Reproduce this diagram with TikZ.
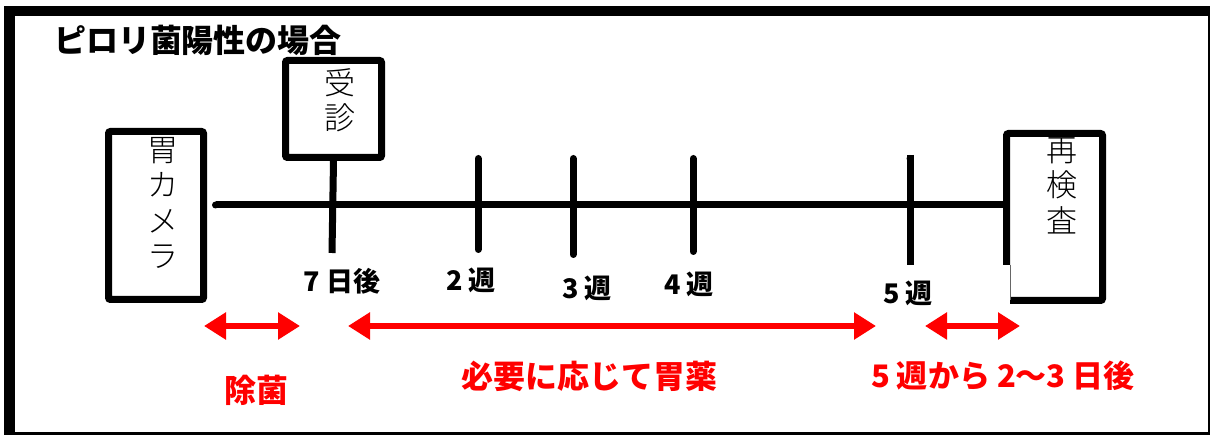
\documentclass[tikz,border=0pt]{standalone}
\usepackage{fontspec}
\newfontfamily\jp{Noto Sans CJK JP}
\newfontfamily\jpblack{Noto Sans CJK JP Black}
\newfontfamily\jplight{Noto Sans CJK JP Light}
\usetikzlibrary{arrows.meta}
\begin{document}
\begin{tikzpicture}[x=1pt,y=-1pt,
  box/.style={draw, line width=7pt, rounded corners=2pt, inner sep=0pt},
  vtext/.style={font=\jplight\fontsize{31}{35.5}\selectfont, align=center, anchor=north, inner sep=0pt},
  tickline/.style={line width=7pt, line cap=round},
  wk/.style={font=\jp\bfseries\fontsize{27}{30}\selectfont, inner sep=0pt},
  redlbl/.style={font=\jp\bfseries\fontsize{32}{34}\selectfont, text=red, inner sep=0pt},
  redarr/.style={draw=red, line width=6pt, {Triangle[length=22pt,width=26pt]}-{Triangle[length=22pt,width=26pt]}}]
\useasboundingbox (0,0) rectangle (1211,435);
% frame
\fill (4,6) rectangle (1210,16);
\fill (4,6) rectangle (15,435);
\fill (1207.5,6) rectangle (1210,435);
\fill (4,432) rectangle (1210,435);
% title
\node[font=\jpblack\fontsize{32}{34}\selectfont, inner sep=0pt] (title) at (198,40) {ピロリ菌陽性の場合};
% boxes
\node[box, minimum width=95pt, minimum height=168pt] (camera) at (156,215.5) {};
\node[vtext] (cameratxt) at (163,137) {胃\\カ\\メ\\ラ};
\node[box, minimum width=96pt, minimum height=97pt] (ukeshin) at (333.5,109) {};
\node[vtext] (ukeshintxt) at (340,68) {受\\診};
\node[inner sep=0pt, minimum width=103pt, minimum height=174pt] (recheck) at (1054.5,217) {};
\draw[line width=7pt, rounded corners=2pt] (1006.5,265) -- (1006.5,133.5) -- (1102.5,133.5) -- (1102.5,300.5) -- (1010,300.5);
\draw[line width=0.8pt, black!60] (1010,265) -- (1010,300);
\node[vtext] (rechecktxt) at (1062,137) {再\\検\\査};
% timeline
\coordinate (tlstart) at (215.5,205);
\coordinate (tlend) at (recheck.west |- tlstart);
\draw[line width=7pt] (tlstart) -- (tlend);
\fill (tlstart) circle (3.5pt);
% ticks
\coordinate (d7b) at (332,253);
\draw[line width=7pt] (ukeshin.south) -- (d7b);
\coordinate (w2a) at (478,158.5); \coordinate (w2b) at (478,249.5);
\coordinate (w3a) at (573,158.5); \coordinate (w3b) at (573,254.5);
\coordinate (w4a) at (693,158.5); \coordinate (w4b) at (693,251.5);
\coordinate (w5a) at (910,158.5); \coordinate (w5b) at (910,265);
\draw[tickline] (w2a) -- (w2b);
\draw[tickline] (w3a) -- (w3b);
\draw[tickline] (w4a) -- (w4b);
\draw[line width=7pt] ([yshift=3.5pt]w5a) -- (w5b);
\fill (w5a) circle (3.5pt);
% tick labels
\node[wk] (l7) at (342,281) {7 日後};
\node[wk] (l2) at (471,280) {2 週};
\node[wk] (l3) at (587,288) {3 週};
\node[wk] (l4) at (689,284) {4 週};
\node[wk] (l5) at (908,293) {5 週};
% red arrows
\coordinate (a1s) at (204,326); \coordinate (a1e) at (300,326);
\coordinate (a2s) at (348,326); \coordinate (a2e) at (876,326);
\coordinate (a3s) at (925,326); \coordinate (a3e) at (1020,326);
\draw[redarr] (a1s) -- (a1e);
\draw[redarr] (a2s) -- (a2e);
\draw[redarr] (a3s) -- (a3e);
% red labels
\node[redlbl] (jokin) at (256,390) {除菌};
\node[redlbl] (ijyaku) at (589,376) {必要に応じて胃薬};
\node[redlbl, font=\jp\bfseries\fontsize{31}{33}\selectfont] (after) at (1003,376) {5 週から 2〜3 日後};
\end{tikzpicture}
\end{document}
